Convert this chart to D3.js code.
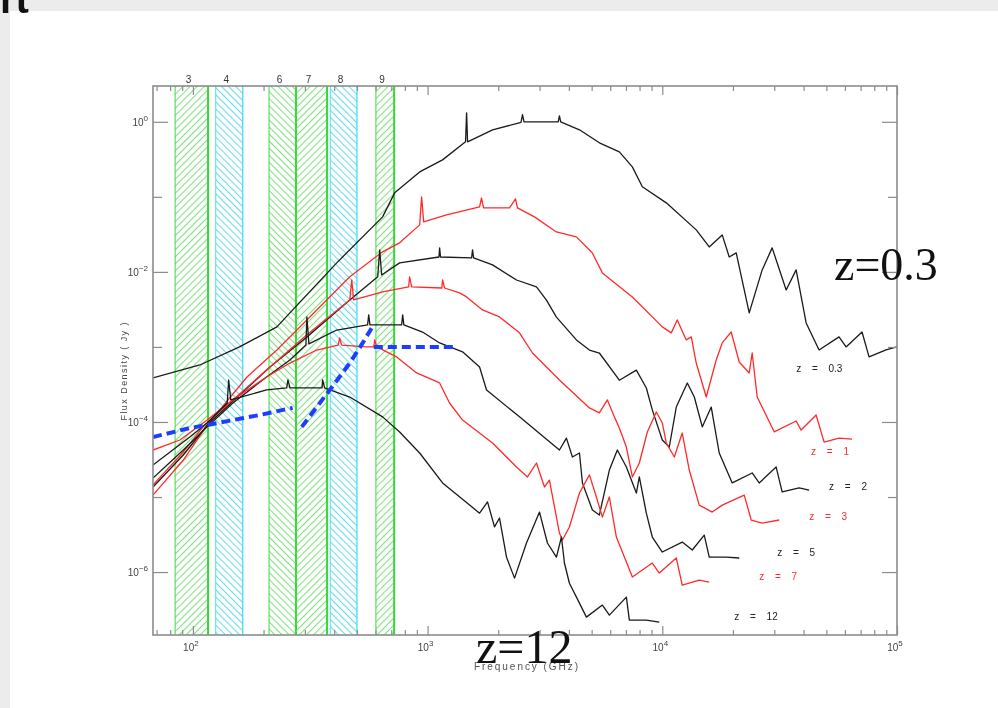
<!DOCTYPE html>
<html>
<head>
<meta charset="utf-8">
<script src="https://cdn.jsdelivr.net/npm/d3@7"></script>
<style>
body { margin: 0; background: #ececec; }
svg { display: block; filter: blur(0.45px); }
</style>
</head>
<body>
<svg id="svg" width="998" height="708"></svg>
<script>
// ALMA bands (GHz)
const bandNames = ["3", "4", "6", "7", "8", "9"];
const bandLow = [84, 125, 211, 275, 385, 602];
const bandHigh = [116, 163, 275, 373, 500, 720];
const bandKind = ["green", "cyan", "green", "green", "cyan", "green"];
const bandSlant = [1, -1, -1, 1, -1, 1];

// SED tracks, [frequency GHz, flux Jy]
const sedZ03 = [[67.6,3.86e-4],[107,5.75e-4],[158,1.0e-3],[228,1.85e-3],[259,2.84e-3],[410,1.32e-2],[643,5.41e-2],[724,0.113],[925,0.215],[1158,0.311],[1451,0.541],[1466,1.318],[1480,0.541],[1891,0.782],[2500,0.98],[2537,1.25],[2575,1.0],[3600,1.0],[3645,1.2],[3690,1.0],[4436,0.782],[5393,0.525],[6561,0.398],[7454,0.251],[8221,0.136],[10400,0.0832],[13950,0.0363],[15850,0.0215],[18000,0.0311],[19280,0.0158],[20650,0.0179],[23460,0.00284],[26640,0.01063],[29380,0.0209],[33710,0.00575],[37170,0.01063],[41010,0.00209],[46560,9.12e-4],[56630,0.00136],[60670,0.001],[70960,0.00158],[76020,7.36e-4],[89800,9.12e-4],[100000,0.001]];
const sedZ1 = [[67.6,1.06e-5],[91,3.11e-5],[115,9.1e-5],[170,3.98e-4],[228,9.1e-4],[306,2.29e-3],[466,8.6e-3],[643,0.0185],[760,0.0244],[925,0.0423],[943,0.1],[962,0.0464],[1204,0.0575],[1665,0.0736],[1697,0.097],[1731,0.0713],[2234,0.0713],[2369,0.094],[2415,0.0713],[2853,0.0541],[3539,0.0341],[4305,0.0293],[5036,0.0179],[5554,0.0097],[7454,0.00464],[10000,0.00185],[10920,0.00154],[11580,0.00229],[12650,0.00124],[13290,0.00136],[13950,6.1e-4],[15390,2.15e-4],[16970,6.7e-4],[18000,1.13e-3],[19660,1.58e-3],[21270,6.3e-4],[23460,4.5e-4],[24150,8.3e-4],[25370,2.15e-4],[29970,7.4e-5],[37170,1.03e-4],[39040,7.8e-5],[45220,1.24e-4],[48920,5.4e-5],[56630,6.1e-5],[64340,5.9e-5]];
const sedZ2 = [[67.6,1.36e-5],[91,3.63e-5],[115,9.1e-5],[158,2.29e-4],[213,5.4e-4],[306,1.36e-3],[466,4.23e-3],[613,8.6e-3],[625,0.0197],[637,9.1e-3],[760,0.0132],[1118,0.0158],[1125,0.0209],[1135,0.0158],[1540,0.0154],[1554,0.0197],[1570,0.0154],[1891,0.0124],[2392,0.0078],[2910,0.0063],[3209,0.0042],[3539,0.0025],[4305,0.00124],[4892,9.1e-4],[5393,8.3e-4],[6561,3.6e-4],[7752,4.9e-4],[8550,2.84e-4],[9066,1.45e-4],[10000,5.75e-5],[10710,4.64e-5],[11470,1.58e-4],[12780,3.31e-4],[13690,2.15e-4],[14800,8.6e-5],[16160,1.58e-4],[17480,3.86e-5],[19860,1.54e-5],[24150,2.09e-5],[25870,1.54e-5],[30560,2.51e-5],[32410,1.17e-5],[38280,1.32e-5],[42230,1.24e-5]];
const sedZ3 = [[67.6,1.45e-5],[91,3.98e-5],[112,9.1e-5],[148,1.97e-4],[206,4.94e-4],[306,1.45e-3],[466,4.23e-3],[475,7.8e-3],[484,4.23e-3],[643,5.4e-3],[830,6.3e-3],[838,8.6e-3],[855,6.3e-3],[1150,6.1e-3],[1158,7.8e-3],[1181,6.1e-3],[1369,5.25e-3],[1466,4.64e-3],[1714,3.11e-3],[2025,2.51e-3],[2463,1.54e-3],[2798,8.3e-4],[3645,3.63e-4],[4892,1.54e-4],[5393,1.32e-4],[5834,1.97e-4],[6247,1.17e-4],[6561,8.3e-5],[7029,4.64e-5],[7454,1.85e-5],[7982,2.84e-5],[8635,7.36e-5],[9430,1.36e-4],[10000,9.7e-5],[10400,5.25e-5],[11250,3.41e-5],[12160,7.13e-5],[13030,2.29e-5],[14370,7.8e-6],[16320,6.3e-6],[18000,7.8e-6],[22340,1.06e-5],[23920,4.94e-6],[26640,4.5e-6],[31470,4.94e-6]];
const sedZ5 = [[67.6,1.79e-5],[91,4.23e-5],[115,8.6e-5],[148,1.79e-4],[206,3.98e-4],[259,6.7e-4],[303,1.06e-3],[306,2.51e-3],[312,1.1e-3],[410,1.68e-3],[555,1.97e-3],[561,2.67e-3],[568,1.97e-3],[775,1.97e-3],[783,2.67e-3],[792,1.97e-3],[952,1.58e-3],[1125,1.13e-3],[1409,8.6e-4],[1665,5.4e-4],[1783,2.67e-4],[2463,1.17e-4],[3645,4.23e-5],[3904,6.1e-5],[4140,3.41e-5],[4436,3.86e-5],[4568,1.54e-5],[5036,6.7e-6],[5393,5.75e-6],[5949,2.29e-5],[6433,4.23e-5],[7029,2.51e-5],[7752,1.13e-5],[7982,1.85e-5],[8550,6.1e-6],[9066,2.93e-6],[10000,1.85e-6],[12160,2.51e-6],[13420,1.97e-6],[15090,3.11e-6],[15850,1.58e-6],[18720,1.58e-6],[21270,1.54e-6]];
const sedZ7 = [[67.6,4.23e-5],[88,5.75e-5],[115,1.06e-4],[148,1.97e-4],[206,3.98e-4],[259,6.1e-4],[337,9.1e-4],[416,1.06e-3],[422,1.32e-3],[430,1.06e-3],[550,1.0e-3],[590,1.0e-3],[595,1.24e-3],[607,1.0e-3],[738,7.36e-4],[898,4.5e-4],[1125,3.31e-4],[1240,1.79e-4],[1409,1.06e-4],[1891,5.25e-5],[2392,2.51e-5],[2664,1.85e-5],[2910,2.84e-5],[3147,1.36e-5],[3304,1.68e-5],[3645,3.31e-6],[3754,2.67e-6],[4020,3.98e-6],[4436,1.13e-5],[4892,1.97e-5],[5237,1.0e-5],[5554,5.4e-6],[5949,1.0e-5],[6371,2.93e-6],[7454,8.6e-7],[9066,1.32e-6],[9710,9.7e-7],[11470,1.54e-6],[12160,6.7e-7],[14370,7.8e-7],[15850,7.36e-7]];
const sedZ12 = [[67.6,2.67e-5],[97,6.3e-5],[115,9.7e-5],[140,1.79e-4],[142,3.63e-4],[145,1.97e-4],[206,2.67e-4],[251,2.84e-4],[254,3.63e-4],[259,2.84e-4],[355,2.84e-4],[357,3.63e-4],[364,2.84e-4],[466,2.15e-4],[643,1.17e-4],[760,7.36e-5],[925,3.86e-5],[1158,1.54e-5],[1665,6.1e-6],[1800,8.6e-6],[1928,4.0e-6],[2025,5.25e-6],[2169,1.58e-6],[2346,8.3e-7],[2638,2.44e-6],[2997,6.3e-6],[3240,2.44e-6],[3539,1.58e-6],[3717,2.93e-6],[3828,1.32e-6],[4020,7.1e-7],[4436,3.86e-7],[4750,2.51e-7],[5554,3.63e-7],[5949,2.67e-7],[7029,4.64e-7],[7239,2.29e-7],[8550,2.29e-7],[9710,2.15e-7]];

const seds = [sedZ03, sedZ1, sedZ2, sedZ3, sedZ5, sedZ7, sedZ12];
const sedLabels = ["z = 0.3", "z = 1", "z = 2", "z = 3", "z = 5", "z = 7", "z = 12"];
const sedColors = ["black", "red", "black", "red", "black", "red", "black"];
const labelFreq = [37170, 43050, 51350, 42230, 30870, 25870, 20250];
const labelFlux = [4.64e-4, 3.63e-5, 1.24e-5, 4.94e-6, 1.63e-6, 7.82e-7, 2.29e-7];

// blue dashed sensitivity tracks
const limitA = [[67.6,6.3e-5],[97,8.3e-5],[115,9.1e-5],[148,1.06e-4],[193,1.24e-4],[242,1.45e-4],[266,1.54e-4]];
const limitB = [[291,8.6e-5],[337,1.58e-4],[383,2.67e-4],[466,6.1e-4],[529,1.13e-3],[578,1.79e-3]];
const limitC = [[590,1.0e-3],[1303,1.0e-3]];

const xDecades = [1e2, 1e3, 1e4, 1e5];
const xExponents = ["2", "3", "4", "5"];
const yDecades = [1, 1e-1, 1e-2, 1e-3, 1e-4, 1e-5, 1e-6];
const yLabelled = [1, 1e-2, 1e-4, 1e-6];
const yExponents = ["0", "\u22122", "\u22124", "\u22126"];

const svg = d3.select("#svg");
const box = { left: 153, right: 897, top: 86, bottom: 635 };

const x = d3.scaleLog().domain([67.6, 1e5]).range([box.left, box.right]);
const y = d3.scaleLog().domain([1.45e-7, 3]).range([box.bottom, box.top]);

// slide background
svg.append("rect").attr("width", 998).attr("height", 708).attr("fill", "#ececec");
svg.append("rect").attr("x", 10).attr("y", 11).attr("width", 988).attr("height", 697).attr("fill", "white");
svg.append("text").attr("x", 0).attr("y", 13)
    .attr("font-family", "Liberation Sans, Arial").attr("font-weight", "bold")
    .attr("font-size", 40).attr("fill", "#111").text("rt");

const defs = svg.append("defs");
defs.append("clipPath").attr("id", "plot")
    .append("rect")
    .attr("x", box.left).attr("y", box.top)
    .attr("width", box.right - box.left).attr("height", box.bottom - box.top);

const hatchColor = { green: "#84e184", cyan: "#6fdcea" };
const edgeColor = { green: "#35d935", cyan: "#45def0" };

bandNames.forEach((name, i) => {
    const p = defs.append("pattern")
        .attr("id", "hatch" + i)
        .attr("patternUnits", "userSpaceOnUse")
        .attr("width", 5).attr("height", 5)
        .attr("patternTransform", `rotate(${bandSlant[i] > 0 ? 45 : -45})`);
    p.append("line")
        .attr("x1", 0.5).attr("y1", 0).attr("x2", 0.5).attr("y2", 5)
        .attr("stroke", hatchColor[bandKind[i]]).attr("stroke-width", 1.2);
});

// bands
const bands = svg.append("g").selectAll("g")
    .data(bandNames)
    .join("g");

bands.append("rect")
    .attr("x", (d, i) => x(bandLow[i]))
    .attr("y", box.top)
    .attr("width", (d, i) => x(bandHigh[i]) - x(bandLow[i]))
    .attr("height", box.bottom - box.top)
    .attr("fill", (d, i) => `url(#hatch${i})`);

bands.each(function(d, i) {
    const g = d3.select(this);
    [bandLow[i], bandHigh[i]].forEach((f, k) => {
        g.append("line")
            .attr("x1", x(f)).attr("x2", x(f))
            .attr("y1", box.top).attr("y2", box.bottom)
            .attr("stroke", edgeColor[bandKind[i]])
            .attr("stroke-width", k === 1 && bandKind[i] === "green" ? 2 : 1.3)
            .attr("stroke-opacity", k === 0 ? 0.75 : 1);
    });
});

bands.append("text")
    .attr("x", (d, i) => x(Math.sqrt(bandLow[i] * bandHigh[i])) - 3)
    .attr("y", box.top - 3)
    .attr("text-anchor", "middle")
    .attr("font-family", "Liberation Sans, Arial")
    .attr("font-size", 10)
    .attr("fill", "#333")
    .text(d => d);

// curves
const line = d3.line().x(d => x(d[0])).y(d => y(d[1]));
const curves = svg.append("g").attr("clip-path", "url(#plot)");

curves.selectAll("path.sed")
    .data(seds)
    .join("path")
    .attr("class", "sed")
    .attr("d", line)
    .attr("fill", "none")
    .attr("stroke", (d, i) => sedColors[i] === "red" ? "#ff2a2a" : "#1a1a1a")
    .attr("stroke-width", 1.3)
    .attr("stroke-linejoin", "round");

curves.selectAll("path.limit")
    .data([limitA, limitB, limitC])
    .join("path")
    .attr("class", "limit")
    .attr("d", line)
    .attr("fill", "none")
    .attr("stroke", "#1f3dff")
    .attr("stroke-width", 4)
    .attr("stroke-dasharray", "9,5");

svg.append("g").selectAll("text")
    .data(sedLabels)
    .join("text")
    .attr("x", (d, i) => x(labelFreq[i]))
    .attr("y", (d, i) => y(labelFlux[i]))
    .attr("font-family", "Liberation Sans, Arial")
    .attr("font-size", 10)
    .attr("word-spacing", 8)
    .attr("fill", (d, i) => sedColors[i] === "red" ? "#ff2a2a" : "#222")
    .text(d => d);

// frame and ticks
const axisColor = "#8c8c8c";
svg.append("rect")
    .attr("x", box.left).attr("y", box.top)
    .attr("width", box.right - box.left).attr("height", box.bottom - box.top)
    .attr("fill", "none").attr("stroke", axisColor).attr("stroke-width", 1.6);

const minorX = x.ticks().filter(t => !xDecades.includes(t));
const styleAxis = g => {
    g.select(".domain").remove();
    g.selectAll("line").attr("stroke", axisColor).attr("stroke-width", 1.2);
};

svg.append("g").attr("transform", `translate(0,${box.bottom})`)
    .call(d3.axisBottom(x).tickValues(minorX).tickSize(-5).tickFormat(""))
    .call(styleAxis);
svg.append("g").attr("transform", `translate(0,${box.bottom})`)
    .call(d3.axisBottom(x).tickValues(xDecades).tickSize(-9).tickFormat(""))
    .call(styleAxis);
svg.append("g").attr("transform", `translate(0,${box.top})`)
    .call(d3.axisTop(x).tickValues(minorX).tickSize(-5).tickFormat(""))
    .call(styleAxis);
svg.append("g").attr("transform", `translate(0,${box.top})`)
    .call(d3.axisTop(x).tickValues(xDecades).tickSize(-9).tickFormat(""))
    .call(styleAxis);

const yMinor = yDecades.filter(t => !yLabelled.includes(t));
svg.append("g").attr("transform", `translate(${box.left},0)`)
    .call(d3.axisLeft(y).tickValues(yMinor).tickSize(-9).tickFormat(""))
    .call(styleAxis);
svg.append("g").attr("transform", `translate(${box.left},0)`)
    .call(d3.axisLeft(y).tickValues(yLabelled).tickSize(-15).tickFormat(""))
    .call(styleAxis);
svg.append("g").attr("transform", `translate(${box.right},0)`)
    .call(d3.axisRight(y).tickValues(yMinor).tickSize(-9).tickFormat(""))
    .call(styleAxis);
svg.append("g").attr("transform", `translate(${box.right},0)`)
    .call(d3.axisRight(y).tickValues(yLabelled).tickSize(-15).tickFormat(""))
    .call(styleAxis);

// tick labels, 10 with superscript exponent
const powerLabel = (sel, exps) => {
    sel.text("10")
        .append("tspan")
        .attr("dy", -5)
        .attr("font-size", 8)
        .text((d, i) => exps[i]);
};

svg.append("g").selectAll("text")
    .data(xDecades)
    .join("text")
    .attr("x", d => x(d) - 2)
    .attr("y", box.bottom + 16)
    .attr("text-anchor", "middle")
    .attr("font-family", "Liberation Sans, Arial")
    .attr("font-size", 10)
    .attr("fill", "#444")
    .call(powerLabel, xExponents);

svg.append("g").selectAll("text")
    .data(yLabelled)
    .join("text")
    .attr("x", box.left - 5)
    .attr("y", d => y(d) + 4)
    .attr("text-anchor", "end")
    .attr("font-family", "Liberation Sans, Arial")
    .attr("font-size", 10)
    .attr("fill", "#444")
    .call(powerLabel, yExponents);

// axis titles
svg.append("text")
    .attr("transform", `translate(127,${(box.top + box.bottom) / 2 + 11}) rotate(-90)`)
    .attr("text-anchor", "middle")
    .attr("font-family", "Liberation Sans, Arial")
    .attr("font-size", 9)
    .attr("textLength", 98)
    .attr("fill", "#444")
    .text("Flux Density ( Jy )");

svg.append("text")
    .attr("x", 526).attr("y", 670)
    .attr("text-anchor", "middle")
    .attr("font-family", "Liberation Sans, Arial")
    .attr("font-size", 10)
    .attr("textLength", 104)
    .attr("fill", "#555")
    .text("Frequency (GHz)");

// big slide annotations
svg.append("text")
    .attr("x", 834).attr("y", 280)
    .attr("font-family", "Liberation Serif, Times New Roman, serif")
    .attr("font-size", 46)
    .attr("fill", "#111")
    .text("z=0.3");

svg.append("text")
    .attr("x", 476).attr("y", 663)
    .attr("font-family", "Liberation Serif, Times New Roman, serif")
    .attr("font-size", 48)
    .attr("fill", "#111")
    .text("z=12");
</script>
</body>
</html>
